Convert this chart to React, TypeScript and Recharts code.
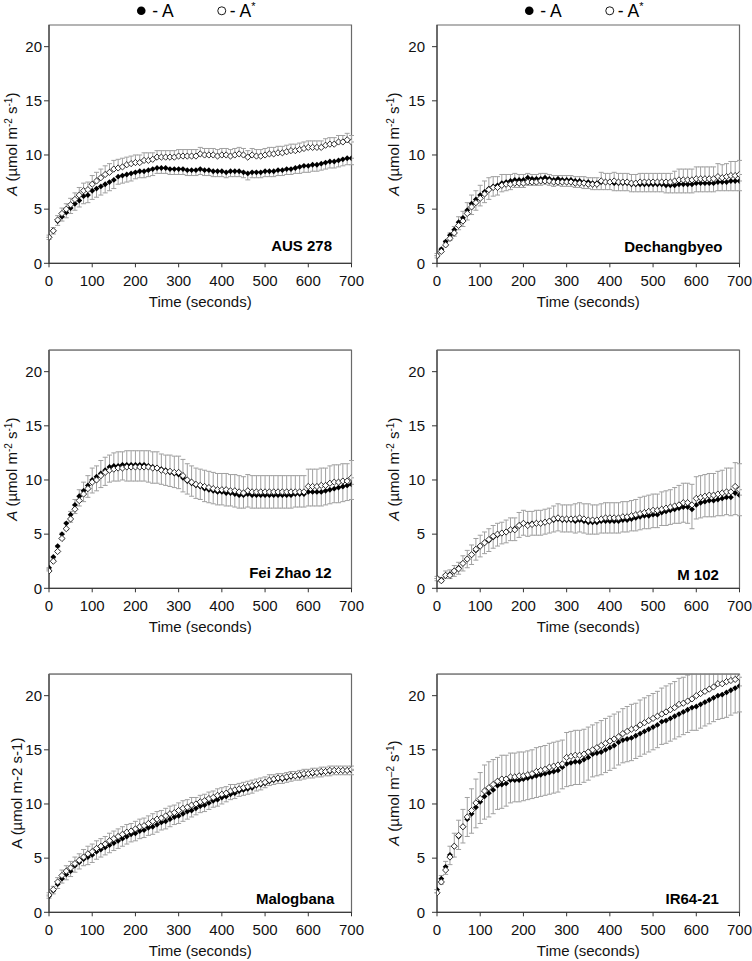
import React from "react";
import { ComposedChart, Scatter, XAxis, YAxis, ErrorBar, ReferenceArea } from "recharts";

const TIME = [
  0, 10, 20, 30, 40, 50, 60, 70, 80, 90,
  100, 110, 120, 130, 140, 150, 160, 170, 180, 190,
  200, 210, 220, 230, 240, 250, 260, 270, 280, 290,
  300, 310, 320, 330, 340, 350, 360, 370, 380, 390,
  400, 410, 420, 430, 440, 450, 460, 470, 480, 490,
  500, 510, 520, 530, 540, 550, 560, 570, 580, 590,
  600, 610, 620, 630, 640, 650, 660, 670, 680, 690,
  700,
];
const X_TICKS = [0, 100, 200, 300, 400, 500, 600, 700];
const Y_TICKS = [0, 5, 10, 15, 20];

// AUS 278
const AUS_A = [
  2.4, 3.0, 3.9, 4.3, 4.7, 5.1, 5.5, 5.8, 6.2, 6.3,
  6.7, 6.9, 7.1, 7.3, 7.5, 7.7, 8.0, 8.1, 8.2, 8.3,
  8.4, 8.5, 8.5, 8.6, 8.7, 8.8, 8.8, 8.8, 8.7, 8.7,
  8.7, 8.7, 8.6, 8.6, 8.6, 8.7, 8.6, 8.6, 8.5, 8.5,
  8.5, 8.4, 8.5, 8.5, 8.5, 8.4, 8.3, 8.4, 8.4, 8.4,
  8.5, 8.5, 8.5, 8.6, 8.6, 8.7, 8.7, 8.8, 8.9, 9.0,
  9.0, 9.1, 9.1, 9.2, 9.3, 9.4, 9.4, 9.5, 9.6, 9.7,
  9.7,
];
const AUS_S = [
  2.4, 3.0, 4.0, 4.6, 5.0, 5.4, 5.9, 6.3, 6.7, 6.8,
  7.3, 7.6, 7.9, 8.2, 8.4, 8.7, 8.8, 8.9, 9.1, 9.2,
  9.3, 9.3, 9.5, 9.5, 9.6, 9.8, 9.8, 9.8, 9.8, 9.8,
  9.9, 9.9, 9.9, 9.9, 9.9, 10.1, 10.0, 10.0, 10.0, 9.9,
  10.0, 10.0, 9.9, 10.0, 10.1, 10.0, 9.8, 10.0, 9.9, 9.9,
  10.0, 10.1, 10.1, 10.2, 10.2, 10.3, 10.4, 10.4, 10.5, 10.6,
  10.7, 10.7, 10.7, 10.7, 10.9, 11.0, 11.0, 11.2, 11.2, 11.4,
  11.2,
];
const AUS_AE = [
  0.2, 0.3, 0.4, 0.4, 0.5, 0.5, 0.6, 0.6, 0.7, 0.7,
  0.8, 0.8, 0.8, 0.8, 0.8, 0.8, 0.7, 0.7, 0.7, 0.7,
  0.6, 0.6, 0.6, 0.6, 0.6, 0.5, 0.5, 0.5, 0.5, 0.5,
  0.5, 0.5, 0.5, 0.5, 0.5, 0.5, 0.5, 0.5, 0.5, 0.5,
  0.5, 0.5, 0.5, 0.5, 0.5, 0.5, 0.6, 0.5, 0.5, 0.5,
  0.5, 0.5, 0.5, 0.5, 0.5, 0.5, 0.5, 0.5, 0.6, 0.6,
  0.6, 0.6, 0.6, 0.6, 0.6, 0.6, 0.6, 0.6, 0.6, 0.6,
  0.6,
];
const AUS_SE = [
  0.2, 0.3, 0.4, 0.5, 0.5, 0.6, 0.6, 0.7, 0.7, 0.7,
  0.8, 0.8, 0.8, 0.8, 0.8, 0.8, 0.8, 0.8, 0.7, 0.7,
  0.7, 0.7, 0.7, 0.7, 0.6, 0.6, 0.6, 0.6, 0.6, 0.6,
  0.6, 0.6, 0.6, 0.6, 0.6, 0.6, 0.6, 0.6, 0.6, 0.6,
  0.6, 0.6, 0.6, 0.6, 0.6, 0.6, 0.6, 0.6, 0.6, 0.6,
  0.6, 0.6, 0.6, 0.6, 0.6, 0.6, 0.6, 0.6, 0.6, 0.6,
  0.6, 0.6, 0.6, 0.6, 0.6, 0.6, 0.6, 0.6, 0.6, 0.6,
  0.6,
];

// Dechangbyeo
const DEC_A = [
  0.7, 1.3, 2.0, 2.6, 3.1, 3.8, 4.2, 4.9, 5.5, 5.9,
  6.3, 6.6, 6.9, 7.1, 7.2, 7.4, 7.5, 7.6, 7.7, 7.7,
  7.7, 7.9, 7.8, 7.8, 7.8, 7.9, 7.8, 7.7, 7.8, 7.7,
  7.7, 7.7, 7.6, 7.6, 7.5, 7.5, 7.4, 7.4, 7.5, 7.5,
  7.5, 7.4, 7.4, 7.4, 7.4, 7.3, 7.3, 7.3, 7.3, 7.3,
  7.3, 7.3, 7.3, 7.2, 7.2, 7.2, 7.3, 7.3, 7.3, 7.3,
  7.4, 7.4, 7.4, 7.4, 7.4, 7.5, 7.5, 7.5, 7.6, 7.6,
  7.6,
];
const DEC_S = [
  0.7, 1.1, 1.7, 2.3, 2.8, 3.5, 3.9, 4.6, 5.2, 5.6,
  6.0, 6.4, 6.8, 7.0, 7.0, 7.2, 7.3, 7.3, 7.4, 7.4,
  7.4, 7.5, 7.5, 7.5, 7.6, 7.6, 7.6, 7.5, 7.5, 7.5,
  7.5, 7.5, 7.4, 7.4, 7.4, 7.3, 7.3, 7.3, 7.6, 7.5,
  7.5, 7.6, 7.5, 7.5, 7.5, 7.4, 7.4, 7.5, 7.5, 7.5,
  7.5, 7.5, 7.5, 7.5, 7.5, 7.6, 7.7, 7.7, 7.7, 7.7,
  7.8, 7.8, 7.8, 7.8, 7.8, 8.0, 7.9, 8.0, 8.1, 8.1,
  8.2,
];
const DEC_AE = [
  0.2, 0.3, 0.4, 0.5, 0.6, 0.7, 0.8, 0.9, 1.0, 1.0,
  1.0, 1.0, 1.0, 0.9, 0.9, 0.8, 0.8, 0.8, 0.7, 0.7,
  0.7, 0.7, 0.6, 0.6, 0.6, 0.6, 0.6, 0.6, 0.6, 0.6,
  0.6, 0.6, 0.6, 0.6, 0.6, 0.6, 0.6, 0.6, 0.7, 0.7,
  0.7, 0.7, 0.7, 0.7, 0.7, 0.7, 0.7, 0.7, 0.7, 0.7,
  0.7, 0.7, 0.7, 0.7, 0.7, 0.7, 0.8, 0.8, 0.8, 0.8,
  0.8, 0.8, 0.8, 0.8, 0.8, 0.8, 0.8, 0.8, 0.9, 0.9,
  0.9,
];
const DEC_SE = [
  0.2, 0.3, 0.4, 0.5, 0.6, 0.8, 0.9, 1.0, 1.1, 1.1,
  1.2, 1.2, 1.1, 1.0, 1.0, 1.0, 0.9, 0.9, 0.9, 0.8,
  0.8, 0.8, 0.7, 0.7, 0.7, 0.7, 0.6, 0.6, 0.6, 0.6,
  0.6, 0.6, 0.6, 0.6, 0.6, 0.6, 0.6, 0.6, 0.8, 0.8,
  0.8, 0.8, 0.8, 0.8, 0.8, 0.8, 0.8, 0.8, 0.8, 0.8,
  0.8, 0.8, 0.8, 0.8, 0.8, 0.9, 1.0, 1.0, 1.0, 1.0,
  1.1, 1.1, 1.1, 1.1, 1.1, 1.2, 1.2, 1.2, 1.3, 1.3,
  1.3,
];

// Fei Zhao 12
const FEI_A = [
  1.9, 2.9, 3.9, 5.0, 6.0, 6.8, 7.7, 8.5, 9.0, 9.5,
  10.0, 10.3, 10.6, 10.9, 11.2, 11.3, 11.3, 11.4, 11.4, 11.4,
  11.4, 11.4, 11.4, 11.3, 11.2, 11.1, 11.0, 10.9, 10.7, 10.6,
  10.5, 10.2, 9.9, 9.7, 9.5, 9.4, 9.2, 9.1, 9.0, 8.9,
  8.9, 8.8, 8.8, 8.7, 8.6, 8.6, 8.7, 8.6, 8.6, 8.6,
  8.6, 8.6, 8.6, 8.6, 8.6, 8.6, 8.6, 8.7, 8.7, 8.7,
  8.9, 8.9, 8.9, 8.9, 9.0, 9.1, 9.2, 9.3, 9.4, 9.5,
  9.6,
];
const FEI_S = [
  1.6, 2.5, 3.4, 4.6, 5.5, 6.4, 7.3, 8.1, 8.7, 9.2,
  9.8, 10.0, 10.4, 10.7, 10.9, 11.0, 11.1, 11.1, 11.2, 11.2,
  11.2, 11.2, 11.2, 11.2, 11.1, 11.1, 10.9, 10.8, 10.8, 10.7,
  10.7, 10.4, 10.0, 9.8, 9.6, 9.5, 9.4, 9.3, 9.2, 9.1,
  9.1, 9.1, 9.0, 9.0, 8.9, 8.8, 9.0, 8.9, 8.9, 8.9,
  8.9, 8.9, 8.9, 8.9, 8.9, 8.9, 8.9, 8.9, 8.9, 8.9,
  9.4, 9.4, 9.4, 9.5, 9.5, 9.7, 9.8, 9.8, 9.9, 9.9,
  10.2,
];
const FEI_AE = [
  0.2, 0.3, 0.4, 0.5, 0.6, 0.7, 0.8, 0.9, 1.0, 1.1,
  1.2, 1.3, 1.3, 1.4, 1.4, 1.4, 1.4, 1.4, 1.5, 1.5,
  1.5, 1.5, 1.5, 1.5, 1.5, 1.4, 1.4, 1.4, 1.3, 1.3,
  1.3, 1.3, 1.2, 1.2, 1.2, 1.2, 1.2, 1.2, 1.2, 1.2,
  1.2, 1.2, 1.2, 1.2, 1.2, 1.2, 1.2, 1.2, 1.2, 1.2,
  1.2, 1.2, 1.2, 1.2, 1.2, 1.2, 1.2, 1.2, 1.2, 1.2,
  1.3, 1.3, 1.3, 1.3, 1.3, 1.3, 1.3, 1.4, 1.4, 1.4,
  1.4,
];
const FEI_SE = [
  0.2, 0.3, 0.4, 0.5, 0.6, 0.7, 0.9, 1.0, 1.1, 1.2,
  1.3, 1.3, 1.4, 1.4, 1.4, 1.5, 1.5, 1.5, 1.5, 1.5,
  1.5, 1.5, 1.5, 1.5, 1.5, 1.5, 1.5, 1.5, 1.5, 1.5,
  1.5, 1.5, 1.5, 1.5, 1.5, 1.5, 1.5, 1.5, 1.5, 1.5,
  1.5, 1.5, 1.5, 1.5, 1.5, 1.5, 1.5, 1.5, 1.5, 1.5,
  1.5, 1.5, 1.5, 1.5, 1.5, 1.5, 1.5, 1.5, 1.5, 1.5,
  1.6, 1.6, 1.6, 1.6, 1.6, 1.6, 1.6, 1.6, 1.6, 1.6,
  1.6,
];

// M 102
const M102_A = [
  0.9, 0.8, 1.2, 1.3, 1.6, 1.9, 2.3, 2.7, 3.1, 3.5,
  3.9, 4.2, 4.4, 4.7, 4.9, 5.1, 5.2, 5.4, 5.5, 5.8,
  6.0, 5.9, 6.0, 6.0, 6.0, 6.1, 6.2, 6.3, 6.4, 6.3,
  6.3, 6.3, 6.2, 6.3, 6.2, 6.1, 6.1, 6.1, 6.2, 6.2,
  6.2, 6.2, 6.2, 6.3, 6.3, 6.4, 6.5, 6.6, 6.7, 6.7,
  6.8, 6.8, 7.0, 7.1, 7.2, 7.3, 7.4, 7.5, 7.5, 7.3,
  7.7, 7.9, 8.0, 8.1, 8.1, 8.2, 8.3, 8.4, 8.4, 8.8,
  8.6,
];
const M102_S = [
  0.9, 0.7, 1.2, 1.2, 1.6, 1.8, 2.3, 2.7, 3.1, 3.6,
  3.9, 4.2, 4.5, 4.8, 5.0, 5.1, 5.2, 5.4, 5.4, 5.8,
  6.0, 5.8, 5.9, 6.0, 6.0, 6.1, 6.2, 6.4, 6.5, 6.4,
  6.4, 6.4, 6.4, 6.5, 6.4, 6.3, 6.3, 6.3, 6.4, 6.5,
  6.5, 6.5, 6.5, 6.6, 6.6, 6.7, 6.8, 6.9, 7.0, 7.1,
  7.2, 7.2, 7.3, 7.4, 7.5, 7.6, 7.7, 7.9, 7.9, 7.7,
  8.3, 8.4, 8.5, 8.6, 8.6, 8.7, 8.8, 8.9, 8.9, 9.4,
  9.1,
];
const M102_AE = [
  0.2, 0.2, 0.3, 0.4, 0.5, 0.6, 0.7, 0.8, 0.9, 0.9,
  1.0, 1.0, 1.0, 1.0, 1.0, 1.0, 1.0, 1.0, 1.1, 1.1,
  1.1, 1.1, 1.1, 1.1, 1.1, 1.1, 1.1, 1.1, 1.1, 1.1,
  1.1, 1.1, 1.1, 1.1, 1.1, 1.1, 1.1, 1.1, 1.1, 1.1,
  1.1, 1.1, 1.1, 1.1, 1.1, 1.1, 1.2, 1.2, 1.2, 1.2,
  1.2, 1.2, 1.2, 1.3, 1.3, 1.3, 1.4, 1.4, 1.5, 1.8,
  1.3, 1.4, 1.4, 1.5, 1.5, 1.5, 1.6, 1.6, 1.7, 2.0,
  1.9,
];
const M102_SE = [
  0.2, 0.3, 0.4, 0.5, 0.5, 0.6, 0.7, 0.8, 0.9, 1.0,
  1.0, 1.0, 1.0, 1.0, 1.0, 1.0, 1.1, 1.1, 1.1, 1.2,
  1.2, 1.3, 1.2, 1.2, 1.2, 1.2, 1.2, 1.2, 1.3, 1.3,
  1.3, 1.3, 1.4, 1.4, 1.4, 1.5, 1.4, 1.4, 1.4, 1.4,
  1.4, 1.4, 1.4, 1.4, 1.4, 1.4, 1.4, 1.5, 1.5, 1.5,
  1.5, 1.5, 1.6, 1.6, 1.6, 1.7, 1.8, 1.8, 1.8, 1.9,
  2.0, 2.0, 2.0, 2.0, 2.0, 2.1, 2.1, 2.2, 2.2, 2.2,
  2.4,
];

// Malogbana
const MAL_A = [
  1.5, 2.0, 2.6, 3.1, 3.5, 3.8, 4.3, 4.6, 4.9, 5.1,
  5.3, 5.6, 5.8, 6.0, 6.2, 6.4, 6.6, 6.8, 7.0, 7.2,
  7.3, 7.5, 7.6, 7.8, 7.9, 8.1, 8.3, 8.4, 8.6, 8.8,
  8.9, 9.1, 9.3, 9.4, 9.6, 9.8, 9.9, 10.1, 10.3, 10.4,
  10.6, 10.7, 10.9, 11.0, 11.2, 11.3, 11.4, 11.5, 11.7, 11.8,
  11.9, 12.1, 12.2, 12.3, 12.3, 12.4, 12.5, 12.6, 12.6, 12.7,
  12.8, 12.8, 12.9, 12.9, 13.0, 13.0, 13.1, 13.1, 13.1, 13.1,
  13.1,
];
const MAL_S = [
  1.6, 2.1, 2.8, 3.4, 3.8, 4.1, 4.5, 4.8, 5.1, 5.4,
  5.6, 5.9, 6.1, 6.3, 6.6, 6.8, 7.0, 7.2, 7.4, 7.5,
  7.7, 7.9, 8.0, 8.2, 8.4, 8.6, 8.7, 8.9, 9.1, 9.2,
  9.4, 9.6, 9.7, 9.9, 10.0, 10.2, 10.3, 10.5, 10.6, 10.8,
  10.9, 11.0, 11.2, 11.3, 11.4, 11.5, 11.6, 11.7, 11.8, 11.9,
  12.0, 12.2, 12.3, 12.4, 12.4, 12.5, 12.6, 12.6, 12.7, 12.8,
  12.8, 12.9, 12.9, 13.0, 13.0, 13.1, 13.1, 13.1, 13.1, 13.1,
  13.2,
];
const MAL_AE = [
  0.2, 0.3, 0.4, 0.4, 0.5, 0.5, 0.6, 0.6, 0.6, 0.7,
  0.7, 0.7, 0.7, 0.7, 0.7, 0.7, 0.7, 0.7, 0.7, 0.7,
  0.7, 0.7, 0.7, 0.7, 0.7, 0.7, 0.7, 0.7, 0.7, 0.7,
  0.7, 0.7, 0.7, 0.6, 0.6, 0.6, 0.6, 0.6, 0.6, 0.6,
  0.6, 0.5, 0.5, 0.5, 0.5, 0.5, 0.5, 0.5, 0.5, 0.5,
  0.4, 0.4, 0.4, 0.4, 0.4, 0.4, 0.4, 0.4, 0.4, 0.4,
  0.4, 0.4, 0.4, 0.4, 0.4, 0.4, 0.4, 0.4, 0.4, 0.4,
  0.4,
];
const MAL_SE = [
  0.2, 0.3, 0.4, 0.5, 0.5, 0.6, 0.6, 0.6, 0.7, 0.7,
  0.7, 0.7, 0.7, 0.7, 0.7, 0.7, 0.7, 0.7, 0.7, 0.7,
  0.7, 0.7, 0.7, 0.7, 0.7, 0.7, 0.7, 0.7, 0.7, 0.7,
  0.7, 0.7, 0.7, 0.7, 0.6, 0.6, 0.6, 0.6, 0.6, 0.6,
  0.6, 0.6, 0.6, 0.5, 0.5, 0.5, 0.5, 0.5, 0.5, 0.5,
  0.5, 0.5, 0.4, 0.4, 0.4, 0.4, 0.4, 0.4, 0.4, 0.4,
  0.4, 0.4, 0.4, 0.4, 0.4, 0.4, 0.4, 0.4, 0.4, 0.4,
  0.3,
];

// IR64-21
const IR_A = [
  2.1, 3.1, 4.2, 5.3, 6.1, 7.0, 7.9, 8.6, 9.1, 9.7,
  10.2, 10.7, 11.0, 11.3, 11.7, 11.8, 11.9, 12.2, 12.2, 12.2,
  12.3, 12.4, 12.5, 12.6, 12.7, 12.8, 12.9, 13.0, 13.1, 13.4,
  13.7, 13.8, 13.9, 13.9, 14.1, 14.3, 14.6, 14.7, 14.8, 15.0,
  15.2, 15.4, 15.7, 15.9, 16.0, 16.1, 16.3, 16.5, 16.7, 16.9,
  17.1, 17.3, 17.6, 17.7, 17.9, 18.1, 18.3, 18.5, 18.7, 18.9,
  19.0, 19.2, 19.4, 19.6, 19.8, 20.0, 20.1, 20.3, 20.5, 20.7,
  20.9,
];
const IR_S = [
  1.8, 2.8, 3.9, 5.1, 6.1, 7.1, 7.9, 8.8, 9.4, 10.1,
  10.5, 11.2, 11.5, 11.8, 12.1, 12.3, 12.3, 12.5, 12.5, 12.6,
  12.6, 12.7, 12.8, 13.0, 13.1, 13.2, 13.4, 13.5, 13.6, 13.7,
  14.3, 14.4, 14.5, 14.5, 14.6, 14.8, 15.0, 15.2, 15.4, 15.6,
  15.8, 16.0, 16.2, 16.5, 16.7, 16.9, 17.0, 17.3, 17.5, 17.7,
  17.9, 18.1, 18.3, 18.5, 18.7, 18.9, 19.2, 19.3, 19.5, 19.7,
  20.0, 20.2, 20.4, 20.6, 20.8, 21.1, 21.1, 21.3, 21.4, 21.5,
  21.7,
];
const IR_AE = [
  0.3, 0.5, 0.7, 0.9, 1.0, 1.2, 1.5, 1.6, 1.8, 1.9,
  2.0, 2.1, 2.2, 2.2, 2.2, 2.2, 2.1, 2.1, 2.0, 2.0,
  2.0, 2.0, 2.0, 2.0, 2.0, 2.0, 2.0, 2.0, 2.0, 2.0,
  2.1, 2.1, 2.1, 2.1, 2.1, 2.1, 2.1, 2.1, 2.1, 2.1,
  2.1, 2.1, 2.1, 2.1, 2.1, 2.1, 2.1, 2.1, 2.1, 2.1,
  2.1, 2.1, 2.1, 2.1, 2.1, 2.1, 2.1, 2.1, 2.1, 2.1,
  2.2, 2.2, 2.2, 2.2, 2.2, 2.2, 2.2, 2.3, 2.3, 2.3,
  2.4,
];
const IR_SE = [
  0.3, 0.6, 0.8, 1.0, 1.2, 1.4, 1.6, 1.8, 2.0, 2.2,
  2.4, 2.4, 2.4, 2.3, 2.2, 2.2, 2.2, 2.2, 2.2, 2.2,
  2.2, 2.2, 2.2, 2.2, 2.2, 2.2, 2.2, 2.2, 2.2, 2.2,
  2.3, 2.3, 2.3, 2.3, 2.3, 2.3, 2.3, 2.3, 2.3, 2.3,
  2.3, 2.3, 2.3, 2.3, 2.3, 2.3, 2.3, 2.3, 2.3, 2.3,
  2.3, 2.3, 2.4, 2.4, 2.4, 2.4, 2.4, 2.4, 2.4, 2.4,
  2.5, 2.5, 2.5, 2.5, 2.5, 2.5, 2.5, 2.5, 2.5, 2.5,
  2.5,
];

const NAMES = ["AUS 278", "Dechangbyeo", "Fei Zhao 12", "M 102", "Malogbana", "IR64-21"];
const SERIES_A = [AUS_A, DEC_A, FEI_A, M102_A, MAL_A, IR_A];
const SERIES_S = [AUS_S, DEC_S, FEI_S, M102_S, MAL_S, IR_S];
const ERR_A = [AUS_AE, DEC_AE, FEI_AE, M102_AE, MAL_AE, IR_AE];
const ERR_S = [AUS_SE, DEC_SE, FEI_SE, M102_SE, MAL_SE, IR_SE];

// layout (not data)
const FONT = "'Liberation Sans', Arial, Helvetica, sans-serif";
const CW = 365;
const CH = 320;
const M = { top: 25, right: 13.5, bottom: 26.7, left: 9 };
const YW = 40;
const XH = 30;
const PL = M.left + YW;
const PR = CW - M.right;
const PT = M.top;
const PB = CH - M.bottom - XH;
const PCX = (PL + PR) / 2;
const PCY = (PT + PB) / 2;

const LAYOUT = [
  { x: 0, y: 0, col: 0, ylx: 16.5, style: "sup", italic: true, lr: 19.5, lb: 12.3 },
  { x: 387.5, y: 0, col: 1, ylx: 11, style: "sup", italic: true, lr: 17, lb: 11.3 },
  { x: 0, y: 324.7, col: 0, ylx: 16.5, style: "sup", italic: true, lr: 19.8, lb: 10.7 },
  { x: 387.5, y: 324.7, col: 1, ylx: 11, style: "sup", italic: true, lr: 20.6, lb: 8.3 },
  { x: 0, y: 649.3, col: 0, ylx: 22, style: "plain", italic: false, lr: 17.2, lb: 8 },
  { x: 387.5, y: 649.3, col: 1, ylx: 11, style: "dash", italic: true, lr: 20.6, lb: 8 },
];

const FilledDiamond = (p: any) => {
  const { cx, cy } = p;
  if (cx == null || cy == null) return null;
  const r = 2.9;
  return <polygon points={`${cx},${cy - r} ${cx + r},${cy} ${cx},${cy + r} ${cx - r},${cy}`} fill="#000" />;
};
const OpenDiamond = (p: any) => {
  const { cx, cy } = p;
  if (cx == null || cy == null) return null;
  const r = 3.1;
  return (
    <polygon
      points={`${cx},${cy - r} ${cx + r},${cy} ${cx},${cy + r} ${cx - r},${cy}`}
      fill="#fff"
      stroke="#000"
      strokeWidth={0.8}
    />
  );
};

const YLabel = ({ x, style, italic }: any) => {
  const sup = (s: string, tail: string) => (
    <>
      <tspan dy={-5} fontSize={10}>{s}</tspan>
      <tspan dy={5}>{tail}</tspan>
    </>
  );
  return (
    <text
      transform={`translate(${x},${PCY}) rotate(-90)`}
      textAnchor="middle"
      fontSize={15}
      fontFamily={FONT}
      fill="#111"
    >
      <tspan fontStyle={italic ? "italic" : "normal"}>A</tspan>
      {style === "plain" ? (
        <tspan> (µmol m-2 s-1)</tspan>
      ) : (
        <>
          <tspan> (µmol m</tspan>
          {sup(style === "dash" ? "–2" : "-2", " s")}
          {sup("-1", ")")}
        </>
      )}
    </text>
  );
};

const Panel = ({ idx }: { idx: number }) => {
  const lay = LAYOUT[idx];
  const data = TIME.map((t, i) => ({
    t,
    a: SERIES_A[idx][i],
    s: SERIES_S[idx][i],
    ae: [ERR_A[idx][i], 0],
    se: [0, ERR_S[idx][i]],
  }));
  const tickStyle = { fontSize: 15, fontFamily: FONT, fill: "#111" };
  return (
    <div style={{ position: "absolute", left: lay.x, top: lay.y, width: CW, height: CH }}>
      <ComposedChart width={CW} height={CH} data={data} margin={M}>
        <ReferenceArea x1={0} x2={700} y1={0} y2={22} fill="none" stroke="#6a6a6a" strokeWidth={1.2} />
        <XAxis
          dataKey="t"
          type="number"
          domain={[0, 700]}
          ticks={X_TICKS}
          allowDataOverflow
          height={XH}
          tickSize={4}
          tickMargin={8}
          tick={tickStyle}
          stroke="#333"
          axisLine={{ stroke: "#333" }}
          tickLine={{ stroke: "#333" }}
        />
        <YAxis
          type="number"
          domain={[0, 22]}
          ticks={Y_TICKS}
          allowDataOverflow
          width={YW}
          tickSize={5}
          tickMargin={lay.col === 0 ? 2 : 7}
          tick={tickStyle}
          axisLine={{ stroke: "#333" }}
          tickLine={{ stroke: "#333" }}
        />
        <Scatter dataKey="a" shape={FilledDiamond} isAnimationActive={false}>
          <ErrorBar dataKey="ae" direction="y" width={2.5} stroke="#a0a0a0" strokeWidth={1} />
        </Scatter>
        <Scatter dataKey="s" shape={OpenDiamond} isAnimationActive={false}>
          <ErrorBar dataKey="se" direction="y" width={2.5} stroke="#a0a0a0" strokeWidth={1} />
        </Scatter>
      </ComposedChart>
      <svg
        width={CW}
        height={CH}
        style={{ position: "absolute", left: 0, top: 0, overflow: "visible", pointerEvents: "none" }}
      >
        {lay.y > 0 && (
          <g>
            <rect x={PL - 6} y={PT - 40} width={PR - PL + 12} height={39.4} fill="#fff" />
            <line x1={PL} x2={PR} y1={PT} y2={PT} stroke="#6a6a6a" strokeWidth={1.2} />
          </g>
        )}
        <YLabel x={lay.ylx} style={lay.style} italic={lay.italic} />
        <text x={PCX} y={PB + 43.4} textAnchor="middle" fontSize={15} fontFamily={FONT} fill="#111">
          Time (seconds)
        </text>
        <text
          x={PR - lay.lr}
          y={PB - lay.lb}
          textAnchor="end"
          fontSize={15}
          fontWeight="bold"
          fontFamily={FONT}
          fill="#000"
        >
          {NAMES[idx]}
        </text>
        {lay.y === 0 && (
          <g>
            <circle cx={PCX - 59} cy={10.8} r={4.3} fill="#000" />
            <text x={PCX - 48} y={17} fontSize={17.5} fontFamily={FONT} fill="#000">
              - A
            </text>
            <circle cx={PCX + 21.5} cy={10.8} r={4} fill="#fff" stroke="#000" strokeWidth={0.9} />
            <text x={PCX + 29.5} y={17} fontSize={17.5} fontFamily={FONT} fill="#000">
              - A<tspan dy={-7} fontSize={11}>*</tspan>
            </text>
          </g>
        )}
      </svg>
    </div>
  );
};

export default function App() {
  return (
    <div style={{ position: "absolute", left: 0, top: 0, width: 752, height: 961, background: "#fff" }}>
      {NAMES.map((_, i) => (
        <Panel key={i} idx={i} />
      ))}
    </div>
  );
}
